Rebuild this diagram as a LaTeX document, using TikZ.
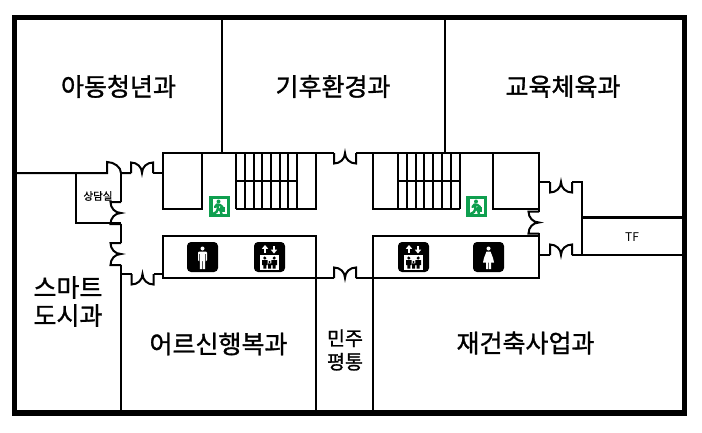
\documentclass[tikz,border=0pt]{standalone}
\usepackage{fontspec}
\setmainfont{Noto Sans CJK KR}
\newfontfamily\roomfont[FakeBold=1.2]{Noto Sans CJK KR}
\usepackage{xcolor}
\usepackage{tikz}
\definecolor{exitgreen}{HTML}{0F9F4F}

\tikzset{
  dblpair/.pic={
    \draw[wall] (-11,0) -- (-11,10.5) .. controls (-5,10.5) and (0,6) .. (0,0)
      .. controls (0,6) and (5,10.5) .. (11,10.5) -- (11,0);
  },
  exitsign/.pic={
    \fill[exitgreen] (0,0) rectangle (21,21);
    \fill[white] (4,3) rectangle (18,18);
    \fill[exitgreen] (11,11) rectangle (16,16);
    % runner
    \fill[exitgreen] (10,5.5) circle (2);
    \draw[exitgreen,line width=2.4pt,line cap=round,line join=round]
      (6.5,11) -- (8.5,8.5) -- (11.5,9) -- (14,11)
      (9,8.5) -- (9.5,12.5) -- (12,14.5) -- (13,18)
      (9.5,12.5) -- (8,16) -- (4.5,18);
  },
  manicon/.pic={
    \fill[black,rounded corners=4pt] (0,0) rectangle (31,30);
    \fill[white] (15.5,6.5) circle (2);
    \fill[white,rounded corners=1pt] (11,9.5) rectangle (20,19);
    \fill[white] (12.8,17) rectangle (15.2,27) (15.8,17) rectangle (18.2,27);
    \fill[black] (12.1,12) rectangle (12.7,19) (18.3,12) rectangle (18.9,19);
  },
  womanicon/.pic={
    \fill[black,rounded corners=4pt] (0,0) rectangle (31,30);
    \fill[white] (15.5,6.5) circle (2);
    \fill[white] (13.5,9.5) -- (17.5,9.5) -- (20,16) -- (21,20.5) -- (10,20.5) -- (11,16) -- cycle;
    \fill[white] (13,20) rectangle (15.2,27) (15.8,20) rectangle (18,27);
  },
  lifticon/.pic={
    \fill[black,rounded corners=4pt] (0,0) rectangle (31,30);
    \draw[white,line width=1.3pt] (11,10.5) -- (11,6) (20,4) -- (20,8.5);
    \fill[white] (7.8,6.8) -- (11,3) -- (14.2,6.8) -- cycle
      (16.8,7.7) -- (20,11.5) -- (23.2,7.7) -- cycle;
    \fill[white] (6,13) rectangle (25,27.5);
    \fill[black] (10.8,16) circle (1.7) (20.2,16) circle (1.7) (15.5,20) circle (1.2);
    \fill[black] (8,18) rectangle (13.6,23) (17.4,18) rectangle (23,23)
      (9.3,22) rectangle (12.4,26.5) (18.6,22) rectangle (21.7,26.5)
      (14,21.4) rectangle (17,26.5);
  }
}

\begin{document}
\begin{tikzpicture}[
  x=1pt,y=-1pt,
  wall/.style={draw=black,line width=2pt,line join=miter},
  room/.style={font=\roomfont\fontsize{25}{25}\selectfont,align=center,inner sep=0pt},
  tread/.style={draw=black,line width=2pt}]
\useasboundingbox (0,0) rectangle (702,432);
% outer frame
\draw[line width=5.3pt] (14.7,17.5) rectangle (684.5,413);
% walls of the upper rooms
\draw[wall] (222,17) -- (222,153);
\draw[wall] (445,17) -- (445,153);
\draw[wall] (15,173) -- (107,173) -- (107,162) .. controls (114,162) and (121,167) .. (121,173)
  -- (131,173);
\draw[wall] (153,173) -- (163,173);
\draw[wall] (76,173) -- (76,223) -- (121,223);
% left wall of the corridor
\draw[wall] (121,173) -- (121,202);
\draw[wall] (121,224) -- (121,243);
\draw[wall] (121,265) -- (121,413);
\draw[wall] (121,274) -- (131.5,274);
\draw[wall] (153.5,274) -- (163,274);
% upper blocks
\draw[wall] (202,153) -- (163,153) -- (163,208.5) -- (202,208.5) -- (202,153);
\draw[wall] (202,153) -- (316,153) -- (316,208.5) -- (236,208.5);
\draw[wall] (316,153) -- (334,153);
\draw[wall] (356,153) -- (373,153);
\draw[wall] (373,153) -- (373,208.5) -- (460,208.5);
\draw[wall] (373,153) -- (539,153) -- (539,212);
\draw[wall] (493,153) -- (493,208.5) -- (539,208.5);
% stairs
\foreach \tx in {236,245,254,262,271,280,288,297}
  \draw[tread] (\tx,153) -- (\tx,208.5);
\draw[tread] (236,181) -- (297,181);
\foreach \tx in {398,407,416,424,433,442,451,460}
  \draw[tread] (\tx,153) -- (\tx,208.5);
\draw[tread] (398,181) -- (460,181);
% lower blocks
\draw[wall] (163,236) rectangle (316,278);
\draw[wall] (373,236) rectangle (539,278);
\draw[wall] (316,278) -- (316,413);
\draw[wall] (373,278) -- (373,413);
\draw[wall] (316,278) -- (334,278);
\draw[wall] (356,278) -- (373,278);
% right side
\draw[wall] (539,233) -- (539,278);
\draw[wall] (539,182) -- (550,182);
\draw[wall] (572,182) -- (582,182) -- (582,255) -- (572,255);
\draw[wall] (539,255) -- (550,255);
\draw[draw=black,line width=3pt] (582,217) -- (685,217);
\draw[wall] (582,255) -- (685,255);
% doors
\pic at (142,173) [yscale=-1] {dblpair};
\pic at (142.5,274) {dblpair};
\pic at (121,213) [rotate=-90] {dblpair};
\pic at (121,254) [rotate=-90] {dblpair};
\pic at (345,153) {dblpair};
\pic at (345,278) [yscale=-1] {dblpair};
\pic at (561,182) {dblpair};
\pic at (561,255) [yscale=-1] {dblpair};
\pic at (539,222.5) [rotate=-90] {dblpair};
% signs
\pic at (208.5,196) {exitsign};
\pic at (466,196) {exitsign};
\pic at (187,242) {manicon};
\pic at (254,242) {lifticon};
\pic at (398,242) {lifticon};
\pic at (473,242) {womanicon};
% labels
\node[room] (youth)   at (118.5,86.5) {아동청년과};
\node[room] (climate) at (333,86.5)   {기후환경과};
\node[room] (edu)     at (563,86.5)   {교육체육과};
\node[room] (smart)   at (68,301.5)   {스마트\\[3pt]도시과};
\node[room] (senior)  at (218.5,344)  {어르신행복과};
\node[room] (rebuild) at (525.5,343)  {재건축사업과};
\node[room,font=\roomfont\fontsize{19.5}{19.5}\selectfont] (peace) at (345,350) {민주\\[4pt]평통};
\node[room,font=\roomfont\fontsize{10.5}{10.5}\selectfont] (counsel) at (98,196) {상담실};
\node[room,font=\fontsize{12}{12}\selectfont] (tf) at (632,237) {TF};
\end{tikzpicture}
\end{document}
